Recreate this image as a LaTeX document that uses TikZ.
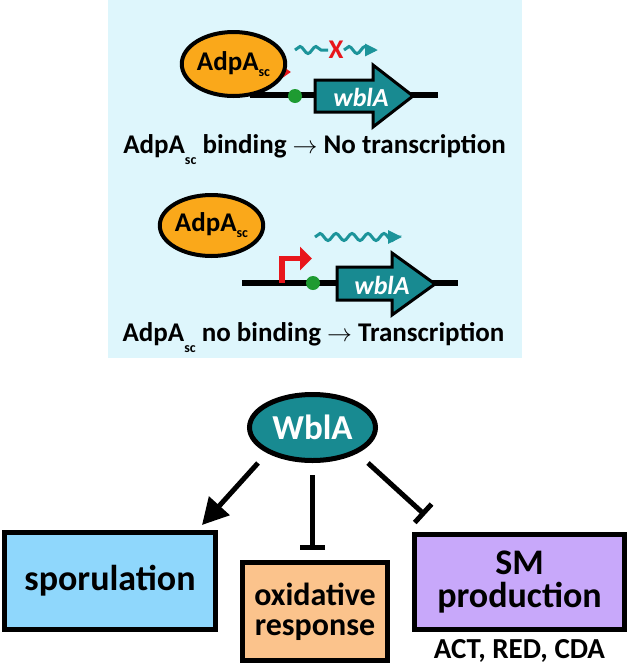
\documentclass[tikz,border=0pt]{standalone}
\usepackage{fontspec}
\setmainfont{Carlito}
\usepackage{tikz}
\usetikzlibrary{shapes.geometric,arrows.meta,decorations.pathmorphing}

\definecolor{panelblue}{RGB}{222,246,252}
\definecolor{adpaorange}{RGB}{250,168,26}
\definecolor{geneteal}{RGB}{24,138,145}
\definecolor{mrnateal}{RGB}{28,148,154}
\definecolor{promred}{RGB}{232,22,27}
\definecolor{sitegreen}{RGB}{30,155,50}
\definecolor{sporblue}{RGB}{143,215,252}
\definecolor{oxorange}{RGB}{251,195,140}
\definecolor{smpurple}{RGB}{200,168,250}

% AdpA with its low-set "sc"
\newcommand{\AdpA}[1][-11pt]{AdpA\raisebox{#1}{\fontsize{14}{14}\selectfont sc}}

\tikzset{
  dna/.style={line width=6.5pt},
  tfblob/.style={ellipse, draw=black, line width=4pt, fill=adpaorange, inner sep=0pt, font=\bfseries\fontsize{27}{30}\selectfont},
  genebody/.style={draw=black, line width=3pt, fill=geneteal, line join=miter},
  genelabel/.style={inner sep=0pt, text=white, font=\bfseries\itshape\fontsize{26}{30}\selectfont},
  mrna/.style={draw=mrnateal, line width=3pt, decorate, decoration={snake, amplitude=3.5pt, segment length=16pt, post length=2pt}},
  promoter/.style={draw=promred, line width=5.5pt},
  site/.style={circle, fill=sitegreen, minimum size=14pt, inner sep=0pt},
  caption/.style={inner sep=0pt, anchor=base, font=\bfseries\fontsize{27}{32}\selectfont},
  hub/.style={ellipse, draw=black, line width=5pt, fill=geneteal, minimum width=126pt, minimum height=66pt, inner sep=0pt, text=white, font=\bfseries\fontsize{35}{36}\selectfont},
  outbox/.style={draw=black, line width=5pt, align=center, inner sep=0pt, font=\bfseries\fontsize{36}{33}\selectfont},
  activ/.style={line width=5pt, -{Triangle[length=26pt,width=27pt]}},
  repress/.style={line width=5pt, -{Bar[width=25pt]}},
}

\begin{document}
\begin{tikzpicture}[x=1pt,y=1pt,yscale=-1]
\useasboundingbox (0,0) rectangle (630,665);

%Background panel
\fill [panelblue] (108,0) rectangle (522,358);

%%%% binding case
%DNA
\draw [dna] (250,95) -- (438,95);
%Promoter (hidden by AdpA)
\draw [promoter, -{Triangle[length=16pt,width=21pt]}] (262,72) -- (291,72);
%Gene
\draw [genebody] (315,80) -- (373,80) -- (373,65) -- (413,96) -- (373,127) -- (373,112) -- (315,112) -- cycle;
\node (gene1) [genelabel] at (361,97) {wblA};
\node (site1) [site] at (295,96) {};
\node (adpa1) [tfblob, minimum width=83pt, minimum height=64pt] at (233.5,64) {\AdpA[-6pt]};
%Blocked transcript
\draw [mrna] (295,50) -- (328,50);
\node (block) [inner sep=0pt, text=promred, font=\bfseries\fontsize{27}{27}\selectfont] at (336,50) {X};
\draw [mrna, -{Triangle[length=13pt,width=12pt]}] (344,50) -- (378,50);
% Text Node
\node (cap1) [caption] at (314.5,153) {\AdpA{} binding $\rightarrow$ No transcription};

%%%% free case
%DNA
\draw [dna] (242,283) -- (458,283);
%Promoter
\draw [promoter, -{Triangle[length=12pt,width=23pt]}] (282,283) -- (282,258.5) -- (312,258.5);
%Gene
\draw [genebody] (337,267) -- (392,267) -- (392,253) -- (435,284) -- (392,315) -- (392,300) -- (337,300) -- cycle;
\node (gene2) [genelabel] at (382,285) {wblA};
\node (site2) [site] at (313,283) {};
\node (adpa2) [tfblob, minimum width=79pt, minimum height=61pt] at (211.5,225.5) {\AdpA[-6pt]};
%Transcript
\draw [mrna, -{Triangle[length=14pt,width=13pt]}] (315,237) -- (402,237);
% Text Node
\node (cap2) [caption] at (313.5,341) {\AdpA{} no binding $\rightarrow$ Transcription};

%%%% WblA targets
\node (wbla) [hub] at (312.5,427.5) {WblA};
\node (spor) [outbox, fill=sporblue, minimum width=211pt, minimum height=97pt] at (110,581) {sporulation};
\node (oxid) [outbox, fill=oxorange, minimum width=145pt, minimum height=98pt, font=\bfseries\fontsize{32}{30}\selectfont] at (315,611.5) {oxidative\\response};
\node (smprod) [outbox, fill=smpurple, minimum width=210pt, minimum height=95pt] at (519.5,582) {SM\\production};
\node (smlist) [caption, font=\bfseries\fontsize{29}{32}\selectfont] at (519.5,658) {ACT, RED, CDA};

%Regulation
\draw [activ] ([xshift=-54.5pt,yshift=35.5pt]wbla.center) -- ([xshift=-16pt,yshift=-5pt]spor.north east);
\draw [repress] ([yshift=12pt]wbla.south) -- ([yshift=-10pt]wbla.south |- oxid.north);
\draw [repress] ([xshift=55.5pt,yshift=35.5pt]wbla.center) -- ([xshift=13pt,yshift=-17pt]smprod.north west);

\end{tikzpicture}
\end{document}
